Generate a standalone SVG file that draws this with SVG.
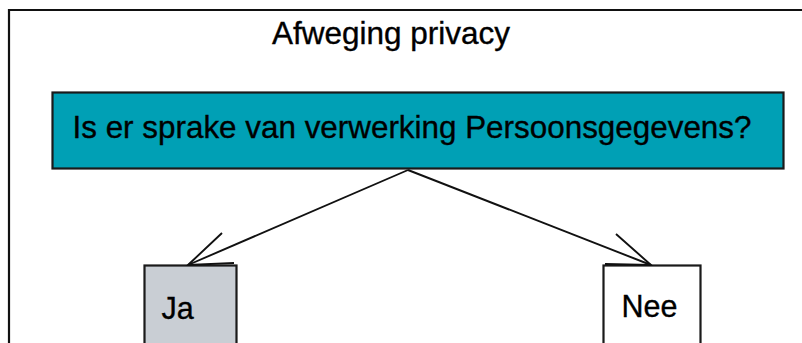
<svg xmlns="http://www.w3.org/2000/svg" width="802" height="343" viewBox="0 0 802 343">
  <style>
    .label { font-family: "Liberation Sans", Arial, sans-serif; fill: #000; stroke: #000; stroke-width: 0.35; }
    .box { stroke: #1a1a1a; stroke-width: 2.2; }
    .edge { fill: none; stroke: #111; stroke-width: 1.9; stroke-linejoin: miter; }
  </style>
  <rect x="0" y="0" width="802" height="343" fill="#fff"/>
  <!-- frame -->
  <path d="M9 343 V10 H802" fill="none" stroke="#111" stroke-width="2.2"/>

  <text class="label" x="391" y="43.5" font-size="30.5" text-anchor="middle" textLength="238" lengthAdjust="spacingAndGlyphs">Afweging privacy</text>

  <g id="question">
    <rect class="box" x="52.5" y="92.5" width="731" height="76" fill="#00A0B5"/>
    <text class="label" x="72.5" y="138" font-size="30.5" textLength="679" lengthAdjust="spacingAndGlyphs">Is er sprake van verwerking Persoonsgegevens?</text>
  </g>

  <g id="ja">
    <rect class="box" x="144.5" y="265.5" width="92" height="90" fill="#C9CED4"/>
    <text class="label" x="161.5" y="319" font-size="30.5">Ja</text>
  </g>

  <g id="nee">
    <rect class="box" x="603.5" y="265.5" width="97" height="90" fill="#fff"/>
    <text class="label" x="621.5" y="317" font-size="30.5">Nee</text>
  </g>

  <g id="connectors">
    <path class="edge" d="M408 170 L188 265"/>
    <path class="edge" d="M222 233 L188 265 L234 263"/>
    <path class="edge" d="M408 170 L651 265"/>
    <path class="edge" d="M616 234 L651 265 L605 264"/>
  </g>
</svg>
